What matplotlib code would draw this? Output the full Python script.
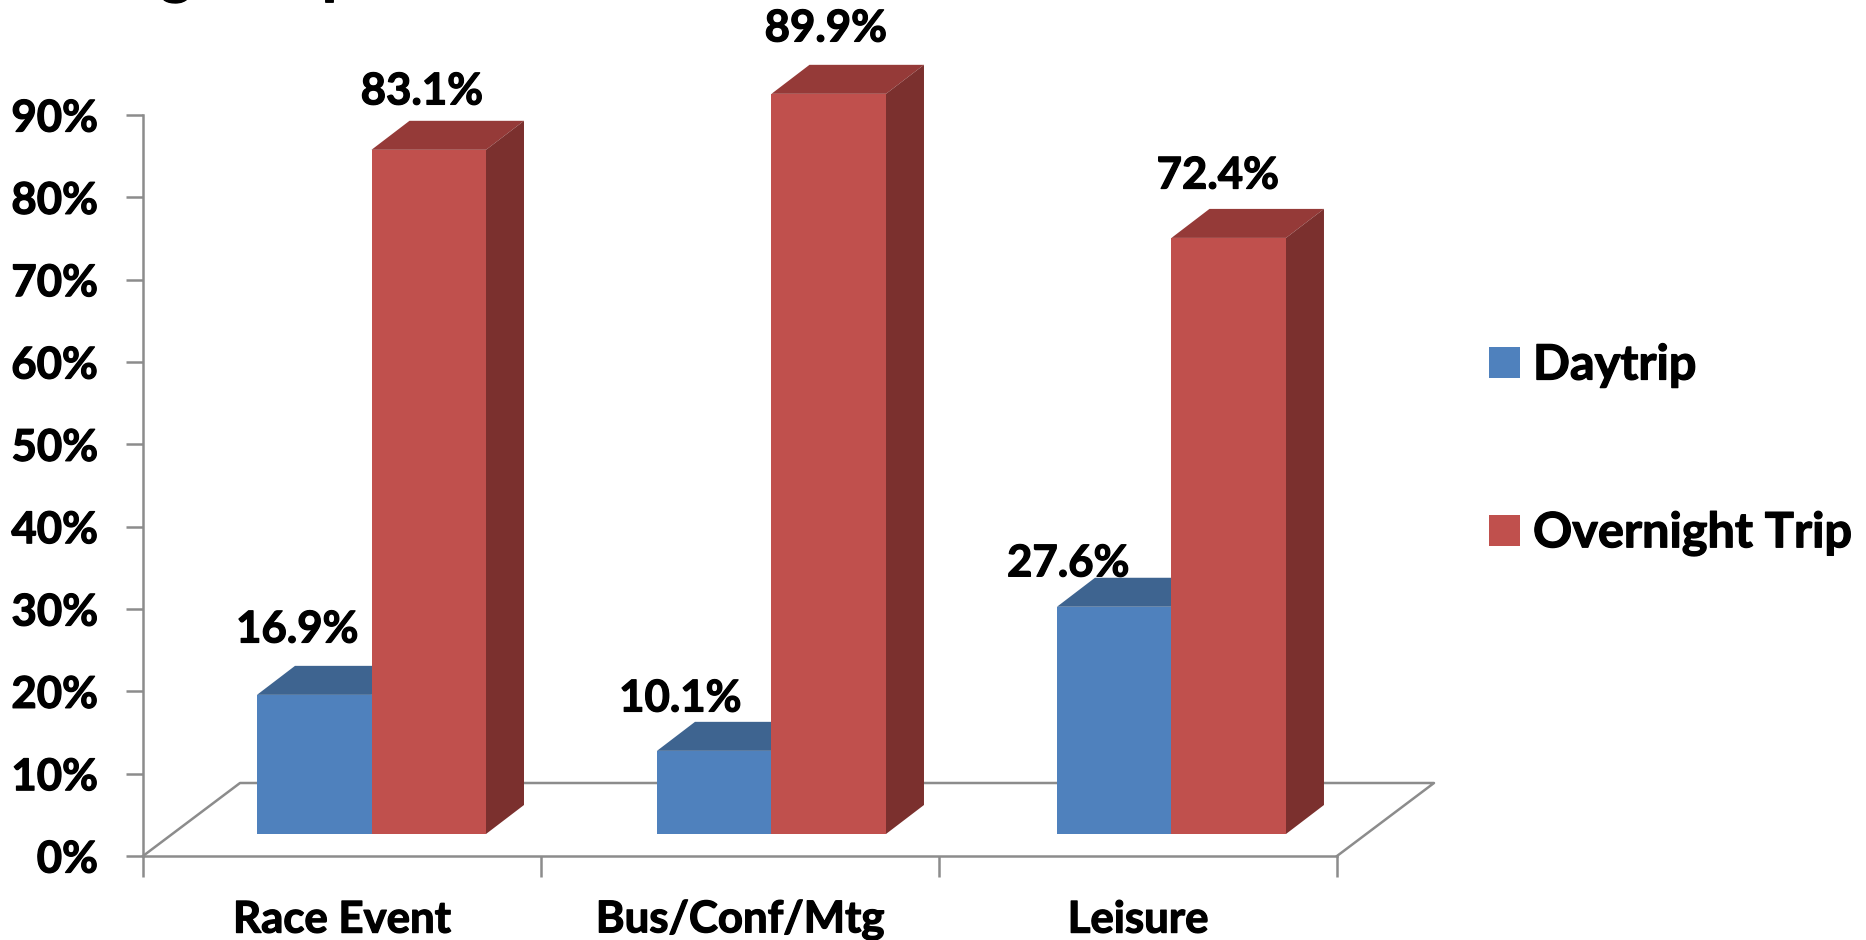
import matplotlib
matplotlib.use('Agg')
import matplotlib.pyplot as plt
import matplotlib.patheffects as pe

plt.rcParams['font.family'] = ['Lato', 'DejaVu Sans']
plt.rcParams['font.weight'] = 'bold'

categories = ['Race Event', 'Bus/Conf/Mtg', 'Leisure']
daytrip = [16.9, 10.1, 27.6]
overnight = [83.1, 89.9, 72.4]
yticks = [0, 10, 20, 30, 40, 50, 60, 70, 80, 90]

# hand placed labels, pixels away from the top of each bar
day_nudge = [(-15, 18), (-32, 5), (-44, -4)]
over_nudge = [(-5, 11), (-1, 18), (-9, 15)]

W, H = 1866, 940
AX_L, AX_R, AX_T, AX_B = 143, 1337, 115, 856
GREY = '#8c8c8c'
LW = 1.8

fig = plt.figure(figsize=(W/100, H/100), dpi=100, facecolor='white')
ax = fig.add_axes([AX_L/W, 1-AX_B/H, (AX_R-AX_L)/W, (AX_B-AX_T)/H])
ax.set_xlim(0, 3)
ax.set_ylim(0, 90)
for s in ['top', 'right']:
    ax.spines[s].set_visible(False)
for s in ['left', 'bottom']:
    ax.spines[s].set_color(GREY)
    ax.spines[s].set_linewidth(LW)
    ax.spines[s].set_zorder(1)

# pseudo 3d offsets, in data units
px_x = 3/(AX_R-AX_L)
px_y = 90/(AX_B-AX_T)
floor_dx, floor_dy = 97*px_x, 73*px_y
depth_dx, depth_dy = 38*px_x, 29*px_y
base = 22*px_y
bar_w = 114.5*px_x
bar_start = 114*px_x

# floor of the chart
ax.plot([0, floor_dx, 3+floor_dx, 3], [0, floor_dy, floor_dy, 0], color=GREY, lw=LW, clip_on=False, zorder=1)

def bar3d(x, v, front, top, side, z):
    y = base+v
    ax.fill([x, x+bar_w, x+bar_w, x], [base, base, y, y], color=front, lw=0, clip_on=False, zorder=z+2)
    ax.fill([x, x+depth_dx, x+bar_w+depth_dx, x+bar_w], [y, y+depth_dy, y+depth_dy, y], color=top, lw=0, clip_on=False, zorder=z)
    ax.fill([x+bar_w, x+bar_w+depth_dx, x+bar_w+depth_dx, x+bar_w],
            [base, base+depth_dy, y+depth_dy, y], color=side, lw=0, clip_on=False, zorder=z+1)

def bar_label(x, v, nudge):
    ax.text(x+(nudge[0]-2)*px_x, base+v+depth_dy+(18.4+nudge[1])*px_y, '%.1f%%' % v,
            ha='center', va='center', fontsize=31.5, zorder=12, clip_on=False)

for i in range(len(categories)):
    x0 = i+bar_start+0.005*i
    bar3d(x0, daytrip[i], '#4f81bd', '#3e6490', '#2f4d70', 3)
    bar3d(x0+bar_w, overnight[i], '#c0504d', '#953a38', '#7b302e', 6)
    bar_label(x0+bar_w/2, daytrip[i], day_nudge[i])
    bar_label(x0+1.5*bar_w, overnight[i], over_nudge[i])

ax.set_yticks(yticks)
ax.set_yticklabels(['%d%%' % t for t in yticks], fontsize=31.5, fontweight='bold')
ax.set_xticks([0, 1, 2, 3])
ax.set_xticklabels([])
ax.tick_params(axis='y', color=GREY, width=LW, length=12, pad=20.5)
ax.tick_params(axis='x', color=GREY, width=LW, length=15)

for i, c in enumerate(categories):
    ax.text(i+0.5, -0.075*90-8*px_y, c, ha='center', va='center', fontsize=31.5, clip_on=False)

# legend
for y, label, col in [(362, 'Daytrip', '#4f81bd'), (530, 'Overnight Trip', '#c0504d')]:
    fig.patches.append(plt.Rectangle((1489/W, 1-(y+16)/H), 31/W, 31/H, transform=fig.transFigure, color=col, lw=0))
    fig.text(1533/W, 1-(y+3)/H, label, fontsize=35, ha='left', va='center')

# the heading sits above the top edge, only its descenders reach the canvas
fig.text(176/W, 1+8/H, 'g', fontsize=44, ha='center', va='baseline')
fig.text(322/W, 1+8/H, 'p', fontsize=44, ha='left', va='baseline')

# lato bold is lighter than the heading face, thicken it a little
for t in ax.texts+fig.texts+ax.get_yticklabels():
    t.set_path_effects([pe.withStroke(linewidth=0.9, foreground='black')])

fig.savefig('out.png', dpi=100)
